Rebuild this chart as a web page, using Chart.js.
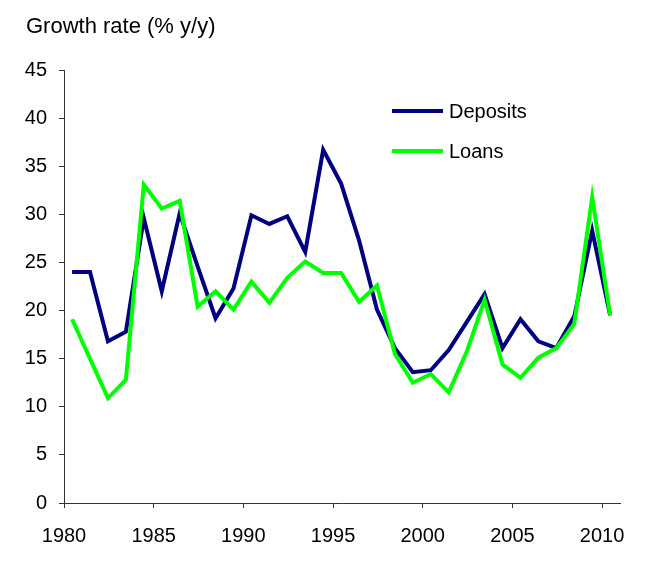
<!DOCTYPE html>
<html>
<head>
<meta charset="utf-8">
<script src="https://cdn.jsdelivr.net/npm/chart.js@4.4.1/dist/chart.umd.min.js"></script>
<style>
  html, body { margin: 0; padding: 0; background: #fff; }
  #wrap { width: 654px; height: 563px; }
</style>
</head>
<body>
<div id="wrap"><canvas id="myChart"></canvas></div>
<script>
const years = [1980, 1981, 1982, 1983, 1984, 1985, 1986, 1987, 1988, 1989,
               1990, 1991, 1992, 1993, 1994, 1995, 1996, 1997, 1998, 1999,
               2000, 2001, 2002, 2003, 2004, 2005, 2006, 2007, 2008, 2009, 2010];
const deposits = [24.0, 24.0, 16.8, 17.8, 29.6, 22.0, 30.1, 24.6, 19.2, 22.3,
                  29.9, 29.0, 29.8, 26.1, 36.7, 33.2, 27.3, 20.1, 16.1, 13.6,
                  13.8, 15.9, 18.8, 21.7, 16.1, 19.1, 16.8, 16.1, 19.4, 28.3, 19.5];
const loans = [19.1, 15.0, 10.9, 12.8, 33.1, 30.6, 31.4, 20.4, 22.0, 20.1,
               23.0, 20.8, 23.4, 25.1, 23.9, 23.9, 20.9, 22.6, 15.5, 12.5,
               13.4, 11.5, 15.7, 21.1, 14.4, 13.0, 15.1, 16.1, 18.6, 31.8, 19.5];
const xTicks = [1980, 1985, 1990, 1995, 2000, 2005, 2010];
const yTitle = "Growth rate (% y/y)";
const midYear = 0.45; // values plotted mid-year

const font = "Liberation Sans, Arial, sans-serif";
const toPoints = vals => vals.map((v, i) => ({ x: years[i] + midYear, y: v }));

// title above the axis + legend inside the plot
const extras = {
    id: "extras",
    afterDraw(chart) {
        const ctx = chart.ctx;
        ctx.save();
        ctx.fillStyle = "#000";
        ctx.font = "22px " + font;
        ctx.textBaseline = "alphabetic";
        ctx.textAlign = "left";
        ctx.fillText(yTitle, 26, 33);

        const items = [chart.data.datasets[0], chart.data.datasets[1]];
        ctx.font = "20px " + font;
        ctx.textBaseline = "middle";
        items.forEach((ds, i) => {
            const y = 111 + i * 40;
            ctx.strokeStyle = ds.borderColor;
            ctx.lineWidth = 4;
            ctx.beginPath();
            ctx.moveTo(392, y);
            ctx.lineTo(443, y);
            ctx.stroke();
            ctx.fillText(ds.label, 449, y + 1);
        });
        ctx.restore();
    }
};

new Chart(document.getElementById("myChart"), {
    type: "line",
    data: {
        datasets: [{
            label: "Deposits",
            data: toPoints(deposits),
            borderColor: "#000080",
            borderWidth: 4,
            pointRadius: 0,
            tension: 0,
            order: 1
        }, {
            label: "Loans",
            data: toPoints(loans),
            borderColor: "#00ff00",
            borderWidth: 4,
            pointRadius: 0,
            tension: 0,
            order: 0
        }]
    },
    options: {
        responsive: true,
        maintainAspectRatio: false,
        animation: false,
        layout: { padding: { top: 70, right: 34, left: 0, bottom: 0 } },
        plugins: {
            legend: { display: false },
            title: { display: false },
            tooltip: { enabled: false }
        },
        scales: {
            x: {
                type: "linear",
                min: 1980,
                max: 2011,
                afterBuildTicks: scale => { scale.ticks = xTicks.map(v => ({ value: v })); },
                afterFit: scale => { scale.height = 60; },
                grid: { drawOnChartArea: false, drawTicks: true, tickLength: 5, color: "#333" },
                border: { display: true, color: "#333", width: 1 },
                ticks: {
                    autoSkip: false,
                    maxRotation: 0,
                    padding: 16,
                    color: "#000",
                    font: { family: font, size: 20 },
                    callback: v => String(v)
                }
            },
            y: {
                min: 0,
                max: 45,
                afterFit: scale => { scale.width = 64; },
                grid: { drawOnChartArea: false, drawTicks: true, tickLength: 5, color: "#333" },
                border: { display: true, color: "#333", width: 1 },
                ticks: {
                    stepSize: 5,
                    padding: 12,
                    color: "#000",
                    font: { family: font, size: 20 }
                }
            }
        }
    },
    plugins: [extras]
});
</script>
</body>
</html>
